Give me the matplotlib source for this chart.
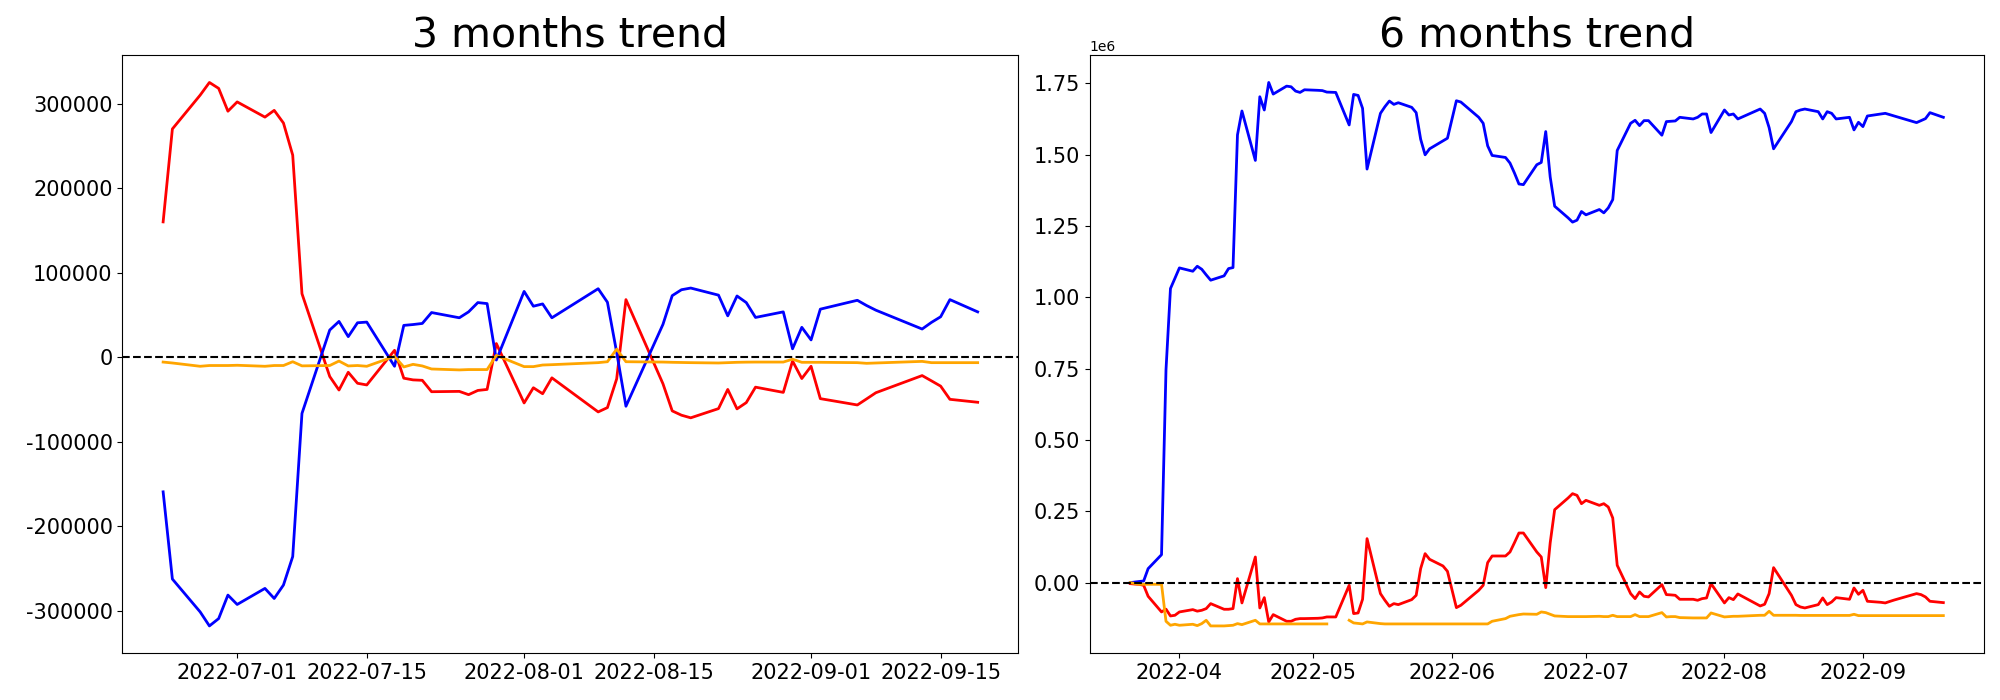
import pandas as pd
import matplotlib
matplotlib.use("Agg")
import matplotlib.pyplot as plt
import matplotlib.dates as mdates

# le graphe d'origine affiche des tirets simples pour les negatifs
plt.rcParams['axes.unicode_minus'] = False

# jours sans donnees (feries + jours manquants dans la source)
skipped_days = ['2022-05-05', '2022-06-01', '2022-06-06', '2022-08-05',
                '2022-08-08', '2022-08-15', '2022-09-09', '2022-09-12']

# ---------------- 3 mois ----------------
dates_3m = [d for d in pd.bdate_range('2022-06-23', '2022-09-19')
            if d.strftime('%Y-%m-%d') not in skipped_days]

red_3m = [160000, 270000,
          310000, 325000, 318000, 291000, 302000,
          284000, 292000, 277000, 239000, 75000,
          -23000, -39000, -18000, -31000, -33000,
          8000, -25000, -27000, -27500, -41000,
          -40600, -44500, -39500, -38300, 16000,
          -54300, -36300, -43400, -24600,
          -64900, -59800, -25800, 68000,
          -31600, -63700, -68800, -71900,
          -61000, -38300, -61300, -53900, -35600,
          -41800, -4700, -25400, -10900, -49200,
          -54800, -56700, -49500, -42200,
          -21900, -28100, -34400, -50000,
          -53500]

blue_3m = [-159500, -262700,
           -301600, -318200, -309500, -281700, -292800,
           -273800, -285700, -269800, -236100, -66700,
           32000, 42200, 24200, 40600, 41400,
           -10900, 37500, 38500, 39800, 52700,
           46500, 53500, 64500, 63300, -3500,
           77700, 60200, 62900, 46500,
           80900, 64900, 5500, -58200,
           38700, 72700, 79700, 81700,
           73300, 48800, 72300, 64500, 46900,
           53500, 9800, 35200, 20300, 56700,
           64600, 67200, 61000, 55500,
           33200, 41000, 47700, 68000,
           53500]

orange_3m = [-5900, -7000,
             -10900, -10000, -10000, -10000, -9700,
             -10900, -10000, -10000, -5500, -10400,
             -10000, -4700, -10500, -10000, -10900,
             800, -11700, -8600, -10500, -14100,
             -15200, -14800, -14800, -14800, 2000,
             -11300, -11300, -9400, -9000,
             -6600, -5500, 9400, -5500,
             -5900, -6200, -6400, -6600,
             -7000, -6600, -6200, -6000, -5900,
             -5900, -2500, -6200, -6200, -6200,
             -6500, -6600, -7400, -7000,
             -5100, -6600, -6600, -6600,
             -6600]

# ---------------- 6 mois ----------------
dates_6m = [d for d in pd.bdate_range('2022-03-21', '2022-09-19')
            if d.strftime('%Y-%m-%d') not in skipped_days]

blue_6m = [0, 2000, 4000, 5800, 49000,
           98000, 746000, 1031000, 1067000, 1103400,
           1091700, 1109200, 1098700, 1079000, 1060300,
           1075500, 1101000, 1104500, 1569700, 1653500,
           1480200, 1703500, 1657000, 1753500, 1712800,
           1740700, 1738400, 1723300, 1718600, 1727900,
           1726000, 1725000, 1719800, 1718600,
           1604600, 1711600, 1708100, 1662800, 1449900,
           1645300, 1668600, 1688400, 1676700, 1682500,
           1666300, 1647700, 1554600, 1499900, 1520900,
           1548800, 1558100, 1689500, 1684900,
           1631400, 1610400, 1531400, 1497600,
           1490600, 1470900, 1436000, 1397600, 1395300,
           1465100, 1473200, 1581400, 1422000, 1319700,
           1279000, 1263900, 1270800, 1301100, 1289500,
           1308100, 1296400, 1313900, 1342900, 1515100,
           1610400, 1620900, 1602300, 1619700, 1619700,
           1568600, 1616300, 1617500, 1618600, 1631400,
           1625600, 1631400, 1643000, 1643000, 1577900,
           1657000, 1639500, 1643000, 1625600,
           1660400, 1645300, 1595300, 1520900,
           1616300, 1651100, 1657000, 1660400,
           1651100, 1625600, 1651100, 1645300, 1625600,
           1631400, 1587200, 1613900, 1598800, 1636000,
           1643000, 1645300, 1640700, 1636000,
           1612800, 1619700, 1626700, 1647700,
           1631400]

red_6m = [-3500, -5000, -6000, -9300, -47900,
          -102800, -93000, -116800, -114500, -102800,
          -94600, -100000, -97000, -91100, -73600,
          -93400, -93400, -91100, 14000, -71200,
          89900, -88800, -52600, -137800, -112100,
          -135500, -135500, -128500, -126100, -126100,
          -125000, -123800, -120300, -120300,
          -9300, -108600, -106300, -58400, 154200,
          -38500, -61900, -82900, -73600, -77100,
          -59600, -44400, 49100, 101600, 81800,
          58400, 39700, -87600, -79400,
          -26900, -9300, 70100, 93400,
          93400, 107500, 140000, 174000, 174000,
          107500, 89900, -17500, 140000, 255800,
          296700, 311900, 306000, 276800, 288500,
          271000, 276800, 265100, 226600, 60700,
          -38500, -56100, -32700, -47900, -50200,
          -7000, -42000, -43000, -44400, -58400,
          -58400, -61900, -56100, -53700, -3500,
          -71200, -52600, -59600, -39700,
          -81800, -75900, -38500, 52600,
          -44400, -77100, -85300, -88800,
          -77100, -53700, -77100, -67700, -52600,
          -58400, -18700, -40900, -26900, -65400,
          -69000, -71200, -66000, -61000,
          -38500, -42000, -50200, -65400,
          -70100]

nan = float('nan')
orange_6m = [0, -3000, -5800, -5800, -5800,
             -5800, -135500, -149500, -146000, -149500,
             -146000, -150700, -143700, -132000, -151800,
             -151800, -150700, -149500, -143700, -147200,
             -132000, -144800, -144800, -144800, -144800,
             -144800, -144800, -144800, -144800, -144800,
             -144800, -144800, -144800, nan,
             -132000, -141300, -143000, -144800, -137800,
             -143700, -144800, -144800, -144800, -144800,
             -144800, -144800, -144800, -144800, -144800,
             -144800, -144800, -144800, -144800,
             -144800, -144800, -144800, -135500,
             -126100, -118000, -115000, -112100, -110000,
             -111000, -102800, -105100, -111000, -116800,
             -119100, -119100, -119100, -119100, -119100,
             -118000, -119100, -119100, -114500, -119100,
             -119100, -112100, -119100, -119100, -119100,
             -105100, -120300, -119100, -119100, -122600,
             -123800, -123800, -123800, -123800, -106300,
             -120300, -119100, -118000, -118000,
             -114500, -114500, -100400, -114500,
             -114500, -114500, -115000, -115000,
             -115000, -115000, -115000, -115000, -115000,
             -115000, -111000, -115600, -115600, -115600,
             -115600, -115600, -115600, -115600,
             -115600, -115600, -115600, -115600,
             -115600]


def draw_trend(ax, dates, red, blue, orange, title):
    """
        Trace les trois courbes + la ligne du zero
    """
    ax.plot(dates, red, color='red', linewidth=2)
    ax.plot(dates, blue, color='blue', linewidth=2)
    ax.plot(dates, orange, color='orange', linewidth=2)
    ax.axhline(0, color='black', linestyle='--', linewidth=1.5)
    ax.set_title(title, fontsize=29.5)
    ax.tick_params(labelsize=15)


def main():
    fig = plt.figure(figsize=(20, 7), dpi=100)
    ax1 = fig.add_axes([0.0612, 0.067, 0.448, 0.854])
    ax2 = fig.add_axes([0.5448, 0.067, 0.4472, 0.854])

    draw_trend(ax1, dates_3m, red_3m, blue_3m, orange_3m, '3 months trend')
    ax1.xaxis.set_major_locator(mdates.DayLocator(bymonthday=[1, 15]))
    ax1.xaxis.set_major_formatter(mdates.DateFormatter('%Y-%m-%d'))

    draw_trend(ax2, dates_6m, red_6m, blue_6m, orange_6m, '6 months trend')
    ax2.xaxis.set_major_locator(mdates.MonthLocator())
    ax2.xaxis.set_major_formatter(mdates.DateFormatter('%Y-%m'))

    fig.savefig('out.png', dpi=100)


if __name__ == "__main__":
    main()
